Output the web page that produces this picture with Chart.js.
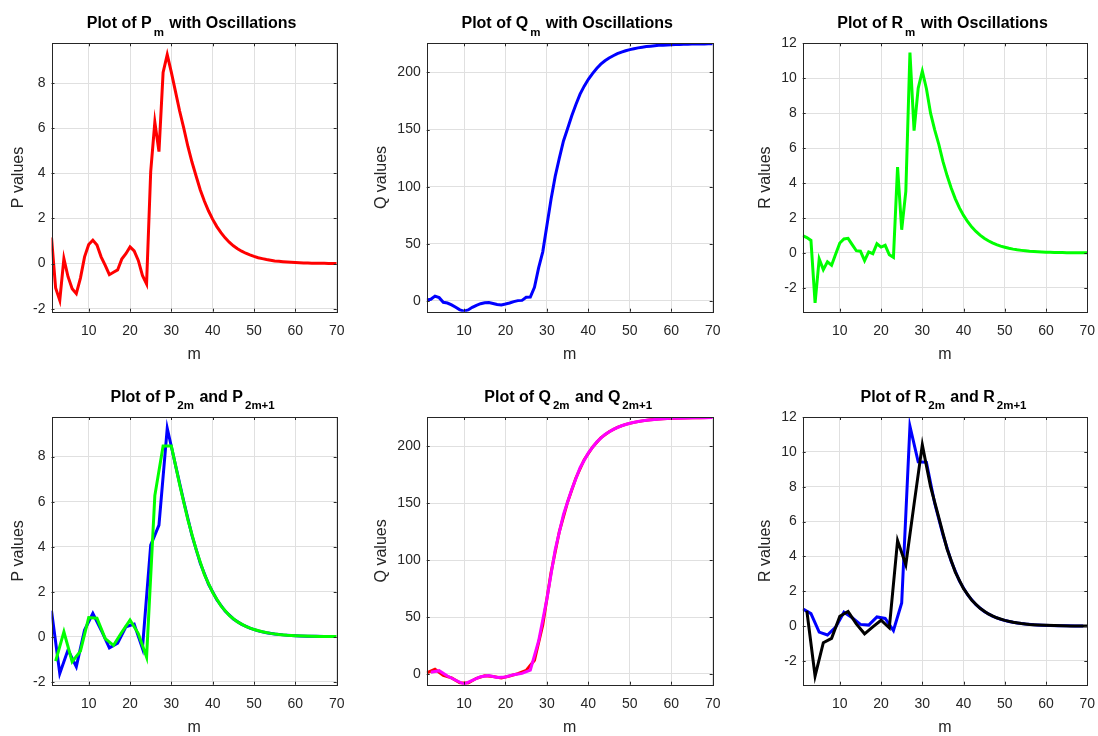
<!DOCTYPE html>
<html>
<head>
<meta charset="utf-8">
<script src="https://cdn.jsdelivr.net/npm/chart.js@4.4.1/dist/chart.umd.min.js"></script>
<style>
  body { margin: 0; background: #fff; }
  #wrap { position: relative; width: 1098px; height: 736px; background: #fff; }
  #wrap canvas { position: absolute; }
</style>
</head>
<body>
<div id="wrap">
  <canvas id="c00" width="366" height="368" style="left:0px;top:0px"></canvas>
  <canvas id="c01" width="366" height="368" style="left:366px;top:0px"></canvas>
  <canvas id="c02" width="366" height="368" style="left:732px;top:0px"></canvas>
  <canvas id="c10" width="366" height="368" style="left:0px;top:368px"></canvas>
  <canvas id="c11" width="366" height="368" style="left:366px;top:368px"></canvas>
  <canvas id="c12" width="366" height="368" style="left:732px;top:368px"></canvas>
</div>
<script>
// -------------------------------
// Daten
// -------------------------------
const mIdx = [1, 2, 3, 4, 5, 6, 7, 8, 9, 10, 11, 12, 13, 14, 15, 16, 17, 18, 19, 20,
    21, 22, 23, 24, 25, 26, 27, 28, 29, 30, 31, 32, 33, 34, 35, 36, 37, 38, 39, 40,
    41, 42, 43, 44, 45, 46, 47, 48, 49, 50, 51, 52, 53, 54, 55, 56, 57, 58, 59, 60,
    61, 62, 63, 64, 65, 66, 67, 68, 69, 70];

const pVals = [1.16, -1.08, -1.63, 0.22, -0.58, -1.11, -1.33, -0.64, 0.30, 0.85,
    1.04, 0.82, 0.30, -0.08, -0.49, -0.38, -0.28, 0.20, 0.44, 0.74,
    0.56, 0.14, -0.52, -0.90, 4.07, 6.27, 4.96, 8.47, 9.26, 8.47,
    7.62, 6.76, 6.00, 5.19, 4.49, 3.87, 3.26, 2.76, 2.33, 1.96,
    1.64, 1.37, 1.14, 0.95, 0.79, 0.66, 0.55, 0.46, 0.385, 0.32,
    0.26, 0.22, 0.18, 0.15, 0.12, 0.10, 0.083, 0.068, 0.056, 0.046,
    0.038, 0.031, 0.025, 0.021, 0.017, 0.014, 0.011, 0.009, 0.007, 0.006];

const qVals = [0.9, 1.5, 4.2, 2.9, -1.2, -1.8, -3.4, -5.5, -7.8, -8.9,
    -7.9, -5.6, -3.8, -2.4, -1.5, -1.4, -2.2, -3.1, -3.5, -2.7,
    -1.8, -0.6, 0.3, 0.5, 3.2, 3.4, 12, 29, 43, 66,
    89, 109, 125, 140, 151, 162, 172, 181, 188, 194,
    199, 203.5, 207.2, 210.2, 212.6, 214.6, 216.4, 217.8, 219.0, 220.0,
    220.8, 221.5, 222.1, 222.6, 223.0, 223.4, 223.7, 223.9, 224.1, 224.3,
    224.4, 224.5, 224.6, 224.7, 224.8, 224.8, 224.9, 224.9, 225.0, 225.0];

const rVals = [0.99, 0.88, 0.72, -2.86, -0.34, -0.95, -0.51, -0.70, -0.06, 0.57,
    0.80, 0.84, 0.48, 0.13, 0.10, -0.44, 0.06, -0.04, 0.53, 0.34,
    0.44, -0.10, -0.25, 4.91, 1.33, 3.52, 11.47, 7.00, 9.43, 10.40,
    9.40, 8.00, 7.05, 6.22, 5.24, 4.43, 3.72, 3.10, 2.58, 2.15,
    1.79, 1.48, 1.23, 1.02, 0.84, 0.70, 0.58, 0.48, 0.39, 0.33,
    0.27, 0.22, 0.18, 0.15, 0.125, 0.10, 0.085, 0.07, 0.058, 0.048,
    0.04, 0.033, 0.027, 0.022, 0.018, 0.015, 0.012, 0.010, 0.008, 0.007];

const xTicks = [10, 20, 30, 40, 50, 60, 70];
const pTicks = [-2, 0, 2, 4, 6, 8];
const qTicks = [0, 50, 100, 150, 200];
const rTicks = [-2, 0, 2, 4, 6, 8, 10, 12];

// -------------------------------
// Hilfen
// -------------------------------
const FONT = '"Liberation Sans", Arial, Helvetica, sans-serif';
const AXIS_COL = '#262626';
const GRID_COL = '#e0e0e0';
const X_H = 52;

Chart.defaults.font.family = FONT;

const pts = vals => mIdx.map((m, i) => ({ x: m, y: vals[i] }));
const oddPts = vals => pts(vals).filter(p => p.x % 2 === 1);
const evenPts = vals => pts(vals).filter(p => p.x % 2 === 0);

// Titel mit Tiefstellung (wie MATLAB TeX)
const matTitle = {
    id: "matTitle",
    afterDraw(chart, args, opts) {
        if (!opts || !opts.parts) return;
        const { ctx, chartArea: a } = chart;
        const mainFont = "bold 16px " + FONT;
        const subFont = "bold 11.5px " + FONT;
        ctx.save();
        let total = 0;
        const widths = opts.parts.map(p => {
            ctx.font = p[1] ? subFont : mainFont;
            const w = ctx.measureText(p[0]).width + (p[1] ? 3 : 0);
            total += w;
            return w;
        });
        let x = (a.left + a.right) / 2 - total / 2 + (opts.dx || 0);
        ctx.fillStyle = "#000";
        ctx.textAlign = "left";
        ctx.textBaseline = "alphabetic";
        opts.parts.forEach((p, i) => {
            ctx.font = p[1] ? subFont : mainFont;
            ctx.fillText(p[0], x + (p[1] ? 2 : 0), p[1] ? a.top - 7.8 : a.top - 15.5);
            x += widths[i];
        });
        ctx.restore();
    }
};

// Rahmen + Ticks nach innen
const matBox = {
    id: "matBox",
    afterDatasetsDraw(chart) {
        const { ctx, chartArea: a, scales } = chart;
        const L = 3;
        ctx.save();
        ctx.strokeStyle = AXIS_COL;
        ctx.lineWidth = 1;
        ctx.beginPath();
        scales.x.ticks.forEach(t => {
            const px = Math.round(scales.x.getPixelForValue(t.value)) + 0.5;
            ctx.moveTo(px, a.bottom); ctx.lineTo(px, a.bottom - L);
            ctx.moveTo(px, a.top); ctx.lineTo(px, a.top + L);
        });
        scales.y.ticks.forEach(t => {
            const py = Math.round(scales.y.getPixelForValue(t.value)) + 0.5;
            ctx.moveTo(a.left, py); ctx.lineTo(a.left + L, py);
            ctx.moveTo(a.right, py); ctx.lineTo(a.right - L, py);
        });
        ctx.stroke();
        ctx.strokeRect(Math.round(a.left) + 0.5, Math.round(a.top) + 0.5,
            Math.round(a.right) - Math.round(a.left), Math.round(a.bottom) - Math.round(a.top));
        ctx.restore();
    }
};

Chart.register(matTitle);

// -------------------------------
// Panel
// -------------------------------
function makePanel(id, cfg) {
    const yW = cfg.yLab + 9.6;
    new Chart(document.getElementById(id), {
        type: "line",
        data: {
            datasets: cfg.series.map(s => ({
                data: s.data,
                borderColor: s.color,
                borderWidth: 3,
                pointRadius: 0,
                tension: 0,
                fill: false
            }))
        },
        options: {
            responsive: false,
            animation: false,
            layout: { padding: { left: cfg.area[0] - yW, top: cfg.area[1], right: 366 - cfg.area[2], bottom: 368 - cfg.area[3] - X_H } },
            plugins: {
                legend: { display: false },
                tooltip: { enabled: false },
                matTitle: { parts: cfg.title, dx: cfg.titleDx }
            },
            scales: {
                x: {
                    type: "linear",
                    min: 1,
                    max: 70,
                    afterBuildTicks: s => { s.ticks = xTicks.map(v => ({ value: v })); },
                    afterFit: s => { s.height = X_H; },
                    grid: { color: GRID_COL, drawTicks: false },
                    border: { display: false },
                    // Abstand ueber lineHeight statt padding (padding vergroessert sonst den rechten Rand)
                    ticks: { color: AXIS_COL, font: { size: 14, lineHeight: "38.8px" }, padding: 0, autoSkip: false, maxRotation: 0 },
                    title: { display: true, text: "m", color: AXIS_COL, font: { size: 16 }, padding: 0 }
                },
                y: {
                    type: "linear",
                    min: cfg.yMin,
                    max: cfg.yMax,
                    afterBuildTicks: s => { s.ticks = cfg.yTicks.map(v => ({ value: v })); },
                    afterFit: s => { s.width = yW; },
                    grid: { color: GRID_COL, drawTicks: false },
                    border: { display: false },
                    ticks: { color: AXIS_COL, font: { size: 14 }, padding: 6 },
                    title: { display: true, text: cfg.yText, color: AXIS_COL, font: { size: 16 }, padding: 0 }
                }
            }
        },
        plugins: [matBox]
    });
}

// Spalten / Zeilen (Plotbereich im Canvas)
const colX = [[51.5, 336.7, 33.2], [60.7, 346.7, 44.9], [70.7, 355.3, 37.4]];
const rowY = [[43.3, 311.7], [49, 316.7]];
const area = (r, c) => [colX[c][0], rowY[r][0], colX[c][1], rowY[r][1]];

makePanel("c00", {
    area: area(0, 0), yLab: colX[0][2], yMin: -2.13, yMax: 9.76, yTicks: pTicks, yText: "P values",
    title: [["Plot of P", 0], ["m", 1], [" with Oscillations", 0]], titleDx: -2.5,
    series: [{ data: pts(pVals), color: "#ff0000" }]
});
makePanel("c01", {
    area: area(0, 1), yLab: colX[1][2], yMin: -9.4, yMax: 225.5, yTicks: qTicks, yText: "Q values",
    title: [["Plot of Q", 0], ["m", 1], [" with Oscillations", 0]], titleDx: -2.5,
    series: [{ data: pts(qVals), color: "#0000ff" }]
});
makePanel("c02", {
    area: area(0, 2), yLab: colX[2][2], yMin: -3.36, yMax: 12, yTicks: rTicks, yText: "R values",
    title: [["Plot of R", 0], ["m", 1], [" with Oscillations", 0]], titleDx: -2.5,
    series: [{ data: pts(rVals), color: "#00ff00" }]
});
makePanel("c10", {
    area: area(1, 0), yLab: colX[0][2], yMin: -2.13, yMax: 9.76, yTicks: pTicks, yText: "P values",
    title: [["Plot of P", 0], ["2m", 1], [" and P", 0], ["2m+1", 1]], titleDx: -1,
    series: [{ data: evenPts(pVals), color: "#00ff00" }, { data: oddPts(pVals), color: "#0000ff" }]
});
makePanel("c11", {
    area: area(1, 1), yLab: colX[1][2], yMin: -9.4, yMax: 225.5, yTicks: qTicks, yText: "Q values",
    title: [["Plot of Q", 0], ["2m", 1], [" and Q", 0], ["2m+1", 1]], titleDx: -1,
    series: [{ data: evenPts(qVals), color: "#ff00ff" }, { data: oddPts(qVals), color: "#ff0000" }]
});
makePanel("c12", {
    area: area(1, 2), yLab: colX[2][2], yMin: -3.36, yMax: 12, yTicks: rTicks, yText: "R values",
    title: [["Plot of R", 0], ["2m", 1], [" and R", 0], ["2m+1", 1]], titleDx: -1,
    series: [{ data: evenPts(rVals), color: "#000000" }, { data: oddPts(rVals), color: "#0000ff" }]
});
</script>
</body>
</html>
